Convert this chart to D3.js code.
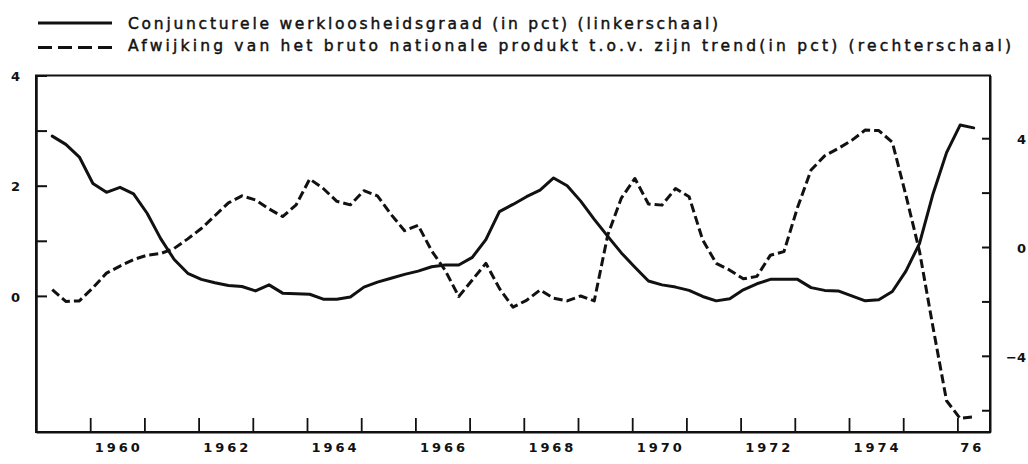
<!DOCTYPE html>
<html>
<head>
<meta charset="utf-8">
<script src="https://cdn.jsdelivr.net/npm/d3@7"></script>
<style>
  html, body { margin: 0; padding: 0; background: #fff; }
  svg { display: block; }
  text { fill: #111; }
</style>
</head>
<body>
<svg id="chart" width="1028" height="464"></svg>
<script>
// ---- DATA ----
const firstYear = 1959, firstQuarter = 2, nQuarters = 69; // 1959 II .. 1976 II
const quarters = [];
for (let i = 0; i < nQuarters; i++) {
  const q = (firstQuarter - 1 + i) % 4 + 1;
  const y = firstYear + Math.floor((firstQuarter - 1 + i) / 4);
  quarters.push({ year: y, q: q });
}

// Conjuncturele werkloosheidsgraad (linkerschaal)
const unemployment = [
  2.90, 2.75, 2.52, 2.04, 1.88, 1.97, 1.85, 1.50, 1.04, 0.66, 0.41, 0.30,
  0.24, 0.19, 0.17, 0.09, 0.20, 0.05, 0.04, 0.03, -0.06, -0.06, -0.02, 0.16,
  0.25, 0.32, 0.39, 0.45, 0.53, 0.56, 0.56, 0.70, 1.02, 1.53, 1.66, 1.80,
  1.92, 2.14, 2.00, 1.72, 1.39, 1.08, 0.78, 0.52, 0.27, 0.20, 0.16, 0.10,
  -0.01, -0.09, -0.05, 0.11, 0.22, 0.30, 0.30, 0.30, 0.15, 0.10, 0.09, 0.00,
  -0.09, -0.07, 0.08, 0.45, 0.95, 1.85, 2.60, 3.10, 3.05
];

// Afwijking van het BNP t.o.v. zijn trend (rechterschaal)
const gnpGap = [
  -1.57, -2.00, -1.98, -1.50, -0.96, -0.70, -0.46, -0.30, -0.24, -0.05, 0.30, 0.68,
  1.15, 1.62, 1.88, 1.73, 1.40, 1.12, 1.55, 2.50, 2.15, 1.68, 1.55, 2.07,
  1.88, 1.20, 0.60, 0.80, -0.14, -0.86, -1.82, -1.21, -0.60, -1.52, -2.21, -1.96,
  -1.58, -1.88, -1.98, -1.80, -1.98, 0.45, 1.80, 2.52, 1.58, 1.54, 2.15, 1.85,
  0.26, -0.60, -0.85, -1.17, -1.08, -0.30, -0.17, 1.45, 2.83, 3.35, 3.62, 3.92,
  4.30, 4.28, 3.85, 1.90, -0.15, -2.95, -5.65, -6.30, -6.24
];

const yearTicks = [1960,1961,1962,1963,1964,1965,1966,1967,1968,1969,1970,1971,1972,1973,1974,1975,1976];
const yearLabelYears = [1960, 1962, 1964, 1966, 1968, 1970, 1972, 1974, 1976];
const yearLabels = ["1960", "1962", "1964", "1966", "1968", "1970", "1972", "1974", "76"];
const leftTicks = [0, 1, 2, 3, 4];
const leftLabeled = [0, 2, 4];
const rightTicks = [-6, -4, -2, 0, 2, 4];
const rightLabeled = [-4, 0, 4];

const legendItems = [
  { text: "Conjuncturele werkloosheidsgraad (in pct) (linkerschaal)", dashed: false },
  { text: "Afwijking van het bruto nationale produkt t.o.v. zijn trend(in pct) (rechterschaal)", dashed: true }
];

// ---- LAYOUT ----
const plot = { left: 36, right: 990, top: 75.5, bottom: 432 };
const yearPx = 54.2;

const x = d3.scaleLinear()
  .domain([1959, 1959 + (plot.right - plot.left) / yearPx])
  .range([plot.left, plot.right]);
const yL = d3.scaleLinear().domain([-2.47, 4]).range([plot.bottom, plot.top]);
const yR = d3.scaleLinear().domain([-6.80, 6.305]).range([plot.bottom, plot.top]);

const tOf = d => d.year + (d.q - 1) * 0.25 + 0.05;

const svg = d3.select("#chart");

// frame
svg.append("rect")
  .attr("x", plot.left).attr("y", plot.top)
  .attr("width", plot.right - plot.left).attr("height", plot.bottom - plot.top)
  .attr("fill", "none").attr("stroke", "#111").attr("stroke-width", 2);

// left axis (ticks inward)
const gL = svg.append("g").attr("transform", `translate(${plot.left},0)`)
  .call(d3.axisLeft(yL).tickValues(leftTicks).tickSizeInner(-11).tickSizeOuter(0)
    .tickPadding(16).tickFormat(d => leftLabeled.includes(d) ? d3.format("d")(d) : ""));
gL.select(".domain").attr("stroke", "#111").attr("stroke-width", 2.5);
gL.selectAll(".tick line").attr("stroke", "#111").attr("stroke-width", 2);
gL.selectAll(".tick text").attr("font-family", "DejaVu Sans").attr("font-weight", "bold")
  .attr("font-size", 13).attr("fill", "#111").attr("dy", "0.4em");

// right axis (ticks inward)
const gR = svg.append("g").attr("transform", `translate(${plot.right},0)`)
  .call(d3.axisRight(yR).tickValues(rightTicks).tickSizeInner(-8).tickSizeOuter(0)
    .tickFormat(d => rightLabeled.includes(d) ? d3.format("d")(d) : ""));
gR.select(".domain").attr("stroke", "#111").attr("stroke-width", 2);
gR.selectAll(".tick line").attr("stroke", "#111").attr("stroke-width", 2);
gR.selectAll(".tick text").attr("font-family", "DejaVu Sans").attr("font-weight", "bold")
  .attr("font-size", 13).attr("fill", "#111").attr("text-anchor", "end")
  .attr("x", 36).attr("dy", "0.4em");

// bottom axis (ticks inward)
const gB = svg.append("g").attr("transform", `translate(0,${plot.bottom})`)
  .call(d3.axisBottom(x).tickValues(yearTicks).tickSizeInner(-14).tickSizeOuter(0).tickFormat(""));
gB.select(".domain").attr("stroke", "#111").attr("stroke-width", 2);
gB.selectAll(".tick line").attr("stroke", "#111").attr("stroke-width", 1.8);

// year labels centred in the visible part of each year
svg.append("g").selectAll("text").data(yearLabelYears).join("text")
  .attr("x", (d) => (x(d) + Math.min(x(d + 1), plot.right)) / 2 - (d === 1976 ? 3 : 0))
  .attr("y", 452)
  .attr("text-anchor", "middle")
  .attr("font-family", "DejaVu Sans").attr("font-weight", "bold").attr("font-size", 13)
  .attr("textLength", (d, i) => yearLabels[i].length === 4 ? 45 : 21)
  .attr("lengthAdjust", "spacing")
  .text((d, i) => yearLabels[i]);

// lines
const lineL = d3.line().x((d, i) => x(tOf(quarters[i]))).y(d => yL(d));
const lineR = d3.line().x((d, i) => x(tOf(quarters[i]))).y(d => yR(d));

svg.append("path").datum(unemployment)
  .attr("d", lineL).attr("fill", "none").attr("stroke", "#111")
  .attr("stroke-width", 3).attr("stroke-linejoin", "round").attr("stroke-linecap", "round");

svg.append("path").datum(gnpGap)
  .attr("d", lineR).attr("fill", "none").attr("stroke", "#111")
  .attr("stroke-width", 3).attr("stroke-dasharray", "9,4").attr("stroke-linejoin", "round");

// legend
const legendY = [23, 47.5];
const legendBase = [28.5, 51];
const legendLen = [590, 883];
const lg = svg.append("g");
legendItems.forEach((item, i) => {
  lg.append("line")
    .attr("x1", 38).attr("x2", 112).attr("y1", legendY[i]).attr("y2", legendY[i])
    .attr("stroke", "#111").attr("stroke-width", 3)
    .attr("stroke-dasharray", item.dashed ? "14,6" : null);
  lg.append("text")
    .attr("x", 128).attr("y", legendBase[i])
    .attr("font-family", "DejaVu Sans").attr("font-size", 15.5)
    .attr("stroke", "#111").attr("stroke-width", 0.45)
    .attr("textLength", legendLen[i]).attr("lengthAdjust", "spacing")
    .text(item.text);
});
</script>
</body>
</html>
